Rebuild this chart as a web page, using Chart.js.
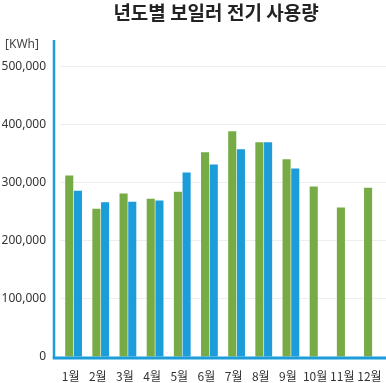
<!DOCTYPE html>
<html>
<head>
<meta charset="utf-8">
<script src="https://cdn.jsdelivr.net/npm/chart.js@4"></script>
<style>
  html, body { margin: 0; padding: 0; background: #ffffff; }
  #wrap { width: 386px; height: 383px; }
</style>
</head>
<body>
<div id="wrap"><canvas id="usageChart" width="386" height="383"></canvas></div>
<script>
const months = ["1월", "2월", "3월", "4월", "5월", "6월", "7월", "8월", "9월", "10월", "11월", "12월"];
const greenValues = [312000, 255000, 281000, 272000, 284000, 352000, 388000, 369000, 340000, 293000, 257000, 291000];
const blueValues = [286000, 266000, 267000, 269000, 317000, 331000, 357000, 369000, 324000, null, null, null];
const yTicks = [0, 100000, 200000, 300000, 400000, 500000];
const chartTitle = "년도별 보일러 전기 사용량";
const unitLabel = "[KWh]";

const green = "#76ab45";
const blue = "#1c9dd9";

// title, unit and the two blue axis lines
const decorations = {
  id: "decorations",
  afterDatasetsDraw(chart) {
    const ctx = chart.ctx;
    const area = chart.chartArea;
    const y0 = chart.scales.y.getPixelForValue(0);
    const axisX = area.left - 6;

    ctx.save();
    ctx.fillStyle = "#222";
    ctx.font = "bold 19px 'Noto Sans CJK KR'";
    ctx.textAlign = "center";
    ctx.textBaseline = "middle";
    ctx.fillText(chartTitle, 216, 13);

    ctx.fillStyle = "#444";
    ctx.font = "12px 'Noto Sans'";
    ctx.textAlign = "left";
    ctx.fillText(unitLabel, 5, 45);

    ctx.strokeStyle = blue;
    ctx.lineWidth = 2.5;
    ctx.beginPath();
    ctx.moveTo(axisX, area.top);
    ctx.lineTo(axisX, y0 + 1.5);
    ctx.stroke();

    ctx.lineWidth = 3;
    ctx.beginPath();
    ctx.moveTo(axisX - 1.25, y0 + 1);
    ctx.lineTo(area.right, y0 + 1);
    ctx.stroke();
    ctx.restore();
  }
};

new Chart(document.getElementById("usageChart").getContext("2d"), {
  type: "bar",
  data: {
    labels: months,
    datasets: [
      {
        label: "green",
        data: greenValues,
        backgroundColor: green,
        categoryPercentage: 0.64,
        barPercentage: 0.93
      },
      {
        label: "blue",
        data: blueValues,
        backgroundColor: blue,
        categoryPercentage: 0.64,
        barPercentage: 0.93
      }
    ]
  },
  options: {
    responsive: false,
    animation: false,
    layout: {
      padding: { top: 40, left: 2, right: 0, bottom: 0 }
    },
    plugins: {
      legend: { display: false },
      title: { display: false },
      tooltip: { enabled: false }
    },
    scales: {
      x: {
        grid: { display: false, drawTicks: false },
        border: { display: false },
        afterFit(scale) {
          scale.height = 26;
          scale.paddingLeft = 0;
          scale.paddingRight = 0;
        },
        ticks: {
          color: "#333",
          padding: 12,
          labelOffset: -3,
          minRotation: 0,
          maxRotation: 0,
          autoSkip: false,
          font: { family: "'Noto Sans CJK KR'", size: 12 }
        }
      },
      y: {
        min: 0,
        max: 545000,
        border: { display: false },
        grid: { color: "#eeeeee", lineWidth: 1, drawTicks: false },
        afterBuildTicks(scale) {
          scale.ticks = yTicks.map(v => ({ value: v }));
        },
        afterFit(scale) {
          scale.width = 58;
          scale.paddingTop = 0;
          scale.paddingBottom = 0;
        },
        ticks: {
          color: "#333",
          padding: 14,
          font: { family: "'Noto Sans'", size: 12 },
          callback: v => v.toLocaleString("en-US")
        }
      }
    }
  },
  plugins: [decorations]
});
</script>
</body>
</html>
